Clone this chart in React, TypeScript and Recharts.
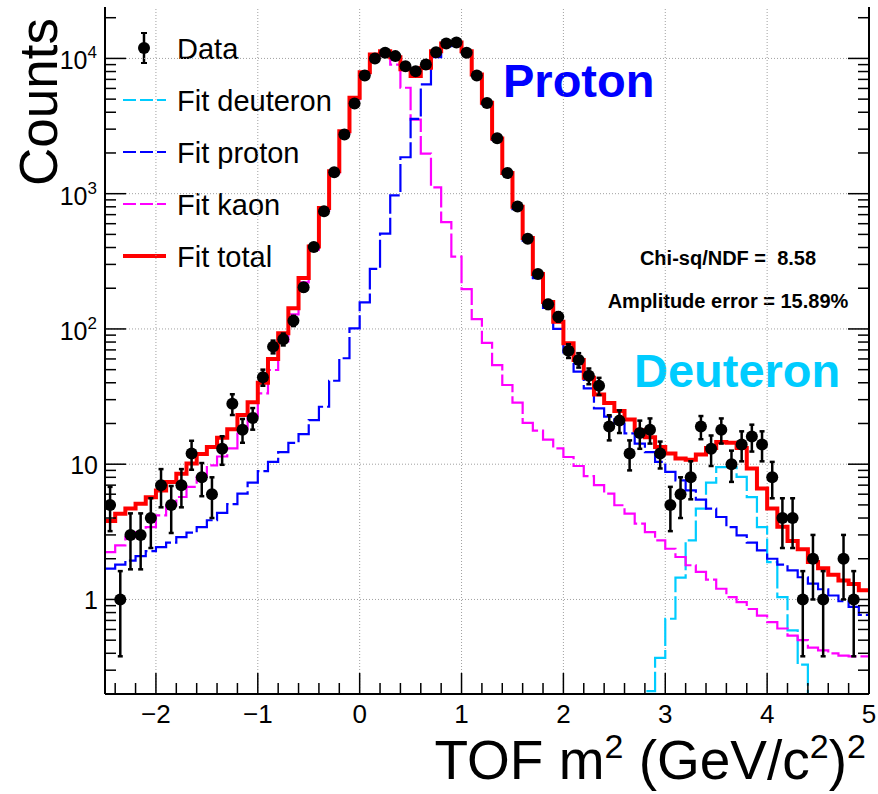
import React from "react";
import { ComposedChart, Line, Scatter, ErrorBar, XAxis, YAxis, ReferenceLine } from "recharts";

const WIDTH = 878;
const HEIGHT = 794;
const FONT = "'Liberation Sans', Arial, Helvetica, sans-serif";

// 75 bins of width 0.1 between -2.5 and 5
const BIN_START = -2.5;
const BIN_WIDTH = 0.1;
const N_BINS = 75;

const counts = [
  5, 1, 3, 3, 4, 7, 5, 7, 12, 8,
  6, 13, 28, 18, 22, 44, 74, 84, 115, 203,
  403, 740, 1440, 2735, 4640, 7480, 10000, 11000, 10400, 8770,
  8050, 9030, 11100, 12900, 13100, 11000, 7480, 4680, 2570, 1420,
  805, 464, 255, 152, 123, 69, 59, 45, 38, 19,
  21, 12, 17, 18, 12, 5, 6, 8, 19, 13,
  18, 10, 14, 16, 14, 8, 4, 4, 1, 2,
  1, null, 2, 1, null,
];

const countErrors = [
  1.8, 0.62, 1.33, 1.33, 1.6, 2.2, 1.9, 2.2, 2.9, 2.2,
  2.0, 3.1, 4.9, 3.6, 4.0, 6, 8, 8.5, 10, 13,
  18, 25, 35, 48, 62, 78, 90, 95, 92, 85,
  82, 87, 96, 103, 104, 95, 78, 62, 46, 34,
  26, 20, 15, 11.5, 10, 8, 7.2, 6, 5.5, 4,
  4, 3, 4, 3.8, 2.7, 1.8, 2.0, 2.5, 3.7, 3.3,
  3.8, 2.6, 3.5, 3.6, 3.5, 2.4, 1.6, 1.6, 0.62, 1.0,
  0.62, null, 1.0, 0.62, null,
];

const fitTotal = [
  3.8, 4.3, 4.7, 5.1, 5.7, 6.4, 7.4, 8.5, 10.1, 11.9,
  13.4, 15.7, 18.1, 23.1, 28.7, 40, 60, 93, 142, 238,
  407, 783, 1462, 2893, 5110, 7900, 10700, 11300, 10200, 8300,
  7400, 8530, 11300, 12900, 13100, 11300, 7600, 4700, 2560, 1420,
  800, 470, 255, 158, 113, 78.5, 58.9, 43.5, 32.7, 28.3,
  24.7, 21.4, 17.8, 15.8, 13.4, 12.0, 11.0, 10.8, 11.8, 13.2,
  14.6, 14.4, 13.2, 9.3, 6.6, 4.7, 3.45, 2.7, 2.35, 1.89,
  1.7, 1.52, 1.38, 1.3, 1.17,
];

const fitProton = [
  1.69, 1.81, 1.94, 2.09, 2.28, 2.44, 2.63, 2.89, 3.12, 3.43,
  3.85, 4.36, 5.06, 6.07, 7.3, 8.9, 10.4, 12.3, 14.4, 16.7,
  21.2, 26.6, 41.4, 60.7, 101, 157, 278, 506, 972, 1860,
  3575, 6420, 10200, 12300, 12750, 11100, 7480, 4600, 2500, 1380,
  770, 450, 237, 143, 100, 67, 48.3, 36.4, 25.9, 22.5,
  20, 16.9, 14.2, 12.3, 10.4, 8.77, 7.6, 6.4, 5.47, 4.7,
  4.07, 3.43, 2.98, 2.63, 2.31, 2.0, 1.81, 1.64, 1.46, 1.31,
  1.19, 1.07, 0.97, 0.88, 0.77,
];

const fitKaon = [
  2.24, 2.51, 2.89, 3.15, 3.43, 4.19, 4.97, 5.72, 6.8, 8.05,
  9.8, 11.4, 13.1, 18.4, 21.8, 33.4, 49.7, 81, 128, 221,
  386, 756, 1420, 2830, 5000, 7740, 10400, 10800, 9000, 6070,
  3530, 1980, 1113, 617, 343, 197, 118, 79, 54, 38.5,
  28.5, 20.2, 17.7, 15.2, 13.1, 11.3, 9.7, 8.15, 7.0, 6.07,
  4.97, 4.31, 3.64, 3.15, 2.73, 2.37, 2.06, 1.79, 1.6, 1.4,
  1.2, 1.04, 0.955, 0.85, 0.76, 0.68, 0.61, 0.54, 0.5, 0.44,
  0.42, 0.4, 0.385, 0.38, 0.38,
];

// deuteron component only exists from bin 52 (2.75) to bin 69 (4.45)
const fitDeuteron: (number | null)[] = [
  ...Array(52).fill(null),
  0.05, 0.21, 0.37, 0.72, 1.45, 2.73, 4.7, 7.3, 9.5, 9.5,
  8.05, 5.7, 3.43, 1.89, 1.04, 0.59, 0.33, 0.05,
  null, null, null, null, null,
];

const xMajorTicks = [-2, -1, 0, 1, 2, 3, 4, 5];
const yMajorTicks = [1, 10, 100, 1000, 10000];
const X_DOMAIN = [-2.5, 5];
const Y_DOMAIN = [0.2, 24000];

const FIT_DASH = "28 4";

const legendItems = [
  { label: "Data", kind: "data", color: "#000000", dash: "", width: 0 },
  { label: "Fit deuteron", kind: "line", color: "#00ccff", dash: "13 4", width: 2 },
  { label: "Fit proton", kind: "line", color: "#0000ff", dash: "13 4", width: 2 },
  { label: "Fit kaon", kind: "line", color: "#ff00ff", dash: "13 4", width: 2 },
  { label: "Fit total", kind: "line", color: "#ff0000", dash: "", width: 4 },
];

const round1 = (v: number) => Math.round(v * 1000) / 1000;

// step rows at bin edges (last edge repeats the last bin)
const edgeRows = Array.from({ length: N_BINS + 1 }, (_, i) => {
  const j = Math.min(i, N_BINS - 1);
  return {
    x: round1(BIN_START + i * BIN_WIDTH),
    total: fitTotal[j],
    proton: fitProton[j],
    kaon: fitKaon[j],
    deuteron: i < N_BINS ? fitDeuteron[j] : null,
  };
});

const pointRows = counts
  .map((c, i) => (c == null ? null : { x: round1(BIN_START + (i + 0.5) * BIN_WIDTH), y: c, err: countErrors[i] }))
  .filter((r) => r !== null);

const xTicks: number[] = [];
for (let k = -12; k <= 25; k++) xTicks.push(round1(k * 0.2));

const yTicks: number[] = [];
for (let d = -1; d <= 4; d++) {
  for (let m = 1; m <= 9; m++) {
    const v = round1(m * Math.pow(10, d));
    if (v >= Y_DOMAIN[0] && v <= Y_DOMAIN[1]) yTicks.push(v);
  }
}

const isMajorX = (v: number) => xMajorTicks.some((t) => Math.abs(t - v) < 1e-6);
const isMajorY = (v: number) => yMajorTicks.some((t) => Math.abs(t - v) < 1e-6);

const BottomTick = (props: any) => {
  const { x, y, payload } = props;
  const v = payload.value;
  const major = isMajorX(v);
  return (
    <g>
      <line x1={x} y1={y} x2={x} y2={y - (major ? 21 : 11)} stroke="#000" strokeWidth={1.5} />
      {major && (
        <text x={x} y={y + 29} textAnchor="middle" fontSize={26} fill="#000" fontFamily={FONT}>
          {v < 0 ? `\u2212${-v}` : `${v}`}
        </text>
      )}
    </g>
  );
};

const TopTick = (props: any) => {
  const { x, y, payload } = props;
  const major = isMajorX(payload.value);
  return <line x1={x} y1={y} x2={x} y2={y + (major ? 21 : 11)} stroke="#000" strokeWidth={1.5} />;
};

const LeftTick = (props: any) => {
  const { x, y, payload } = props;
  const v = payload.value;
  const major = isMajorY(v);
  const p = Math.round(Math.log10(v));
  return (
    <g>
      <line x1={x} y1={y} x2={x + (major ? 21 : 11)} y2={y} stroke="#000" strokeWidth={1.5} />
      {major && p <= 1 && (
        <text x={x - 7} y={y + 9.5} textAnchor="end" fontSize={25} fill="#000" fontFamily={FONT}>
          {p === 0 ? "1" : "10"}
        </text>
      )}
      {major && p > 1 && (
        <text x={x - 8} y={y + 11} textAnchor="end" fontSize={25} fill="#000" fontFamily={FONT}>
          10
          <tspan fontSize={17} dy={-11}>
            {p}
          </tspan>
        </text>
      )}
    </g>
  );
};

const RightTick = (props: any) => {
  const { x, y, payload } = props;
  const major = isMajorY(payload.value);
  return <line x1={x} y1={y} x2={x - (major ? 21 : 11)} y2={y} stroke="#000" strokeWidth={1.5} />;
};

const LegendBox = () => (
  <g fontFamily={FONT}>
    {legendItems.map((item, i) => {
      const cy = 48 + i * 52;
      return (
        <g key={item.label}>
          {item.kind === "data" ? (
            <g>
              <line x1={144} y1={cy - 15} x2={144} y2={cy + 15} stroke="#000" strokeWidth={2.5} />
              <line x1={141} y1={cy - 15} x2={147} y2={cy - 15} stroke="#000" strokeWidth={2} />
              <line x1={141} y1={cy + 15} x2={147} y2={cy + 15} stroke="#000" strokeWidth={2} />
              <circle cx={144} cy={cy} r={6} fill="#000" />
            </g>
          ) : (
            <line
              x1={123}
              y1={cy}
              x2={166}
              y2={cy}
              stroke={item.color}
              strokeWidth={item.width}
              strokeDasharray={item.dash || undefined}
            />
          )}
          <text x={177} y={cy + 11} fontSize={29} fill="#000">
            {item.label}
          </text>
        </g>
      );
    })}
  </g>
);

const DataDot = (props: any) => {
  const { cx, cy } = props;
  if (cx == null || cy == null) return null;
  return <circle cx={cx} cy={cy} r={6} fill="#000" />;
};

export default function App() {
  return (
    <div style={{ position: "absolute", left: 0, top: 0, width: WIDTH, height: HEIGHT, background: "#fff" }}>
      <ComposedChart
        width={WIDTH}
        height={HEIGHT}
        data={edgeRows}
        margin={{ top: 7, right: 0, bottom: 0, left: 0 }}
        style={{ fontFamily: FONT }}
      >
        <XAxis
          xAxisId="bottom"
          dataKey="x"
          type="number"
          domain={X_DOMAIN}
          ticks={xTicks}
          interval={0}
          allowDataOverflow
          height={100}
          tickSize={0}
          tickMargin={0}
          tickLine={false}
          axisLine={{ stroke: "#000", strokeWidth: 2 }}
          tick={BottomTick}
        />
        <XAxis
          xAxisId="top"
          orientation="top"
          dataKey="x"
          type="number"
          domain={X_DOMAIN}
          ticks={xTicks}
          interval={0}
          allowDataOverflow
          height={0}
          tickSize={0}
          tickMargin={0}
          tickLine={false}
          axisLine={{ stroke: "#000", strokeWidth: 2 }}
          tick={TopTick}
        />
        <YAxis
          yAxisId="left"
          dataKey="y"
          scale="log"
          type="number"
          domain={Y_DOMAIN}
          ticks={yTicks}
          interval={0}
          allowDataOverflow
          width={105}
          tickSize={0}
          tickMargin={0}
          tickLine={false}
          axisLine={{ stroke: "#000", strokeWidth: 2 }}
          tick={LeftTick}
        />
        <YAxis
          yAxisId="right"
          orientation="right"
          scale="log"
          type="number"
          domain={Y_DOMAIN}
          ticks={yTicks}
          interval={0}
          allowDataOverflow
          width={9}
          tickSize={0}
          tickMargin={0}
          tickLine={false}
          axisLine={{ stroke: "#000", strokeWidth: 2 }}
          tick={RightTick}
        />

        {yMajorTicks.map((v) => (
          <ReferenceLine key={`gy${v}`} xAxisId="bottom" yAxisId="left" y={v} stroke="#a0a0a0" strokeDasharray="1 2" />
        ))}
        {xMajorTicks.slice(0, -1).map((v) => (
          <ReferenceLine key={`gx${v}`} xAxisId="bottom" yAxisId="left" x={v} stroke="#a0a0a0" strokeDasharray="1 2" />
        ))}

        <Line xAxisId="bottom" yAxisId="left" type="stepAfter" dataKey="deuteron" stroke="#00ccff" strokeWidth={2.2} strokeDasharray={FIT_DASH} dot={false} isAnimationActive={false} />
        <Line xAxisId="bottom" yAxisId="left" type="stepAfter" dataKey="kaon" stroke="#ff00ff" strokeWidth={2.2} strokeDasharray={FIT_DASH} dot={false} isAnimationActive={false} />
        <Line xAxisId="bottom" yAxisId="left" type="stepAfter" dataKey="proton" stroke="#0000ff" strokeWidth={2.2} strokeDasharray={FIT_DASH} dot={false} isAnimationActive={false} />
        <Line xAxisId="bottom" yAxisId="left" type="stepAfter" dataKey="total" stroke="#ff0000" strokeWidth={4} dot={false} isAnimationActive={false} />

        <Scatter xAxisId="bottom" yAxisId="left" data={pointRows} dataKey="y" shape={DataDot} isAnimationActive={false}>
          <ErrorBar dataKey="err" direction="y" width={2.5} stroke="#000" strokeWidth={2.5} />
        </Scatter>

        <LegendBox />

        <text x={503} y={97} fontSize={47} fontWeight="bold" fill="#0000ff" fontFamily={FONT}>
          Proton
        </text>
        <text x={634} y={387} fontSize={47} fontWeight="bold" fill="#00ccff" fontFamily={FONT}>
          Deuteron
        </text>
        <text x={728} y={265} fontSize={20} fontWeight="bold" fill="#000" textAnchor="middle" fontFamily={FONT} style={{ whiteSpace: "pre" }}>
          {"Chi-sq/NDF =  8.58"}
        </text>
        <text x={728} y={308} fontSize={20} fontWeight="bold" fill="#000" textAnchor="middle" fontFamily={FONT}>
          Amplitude error = 15.89%
        </text>

        <text transform="translate(57,18) rotate(-90)" textAnchor="end" fontSize={53} fill="#000" fontFamily={FONT}>
          Counts
        </text>
        <text x={866} y={779} textAnchor="end" fontSize={55} fill="#000" fontFamily={FONT}>
          TOF m
          <tspan fontSize={34} dy={-21}>2</tspan>
          <tspan dy={21}> (GeV/c</tspan>
          <tspan fontSize={34} dy={-21}>2</tspan>
          <tspan dy={21}>)</tspan>
          <tspan fontSize={34} dy={-21}>2</tspan>
        </text>
      </ComposedChart>
    </div>
  );
}
